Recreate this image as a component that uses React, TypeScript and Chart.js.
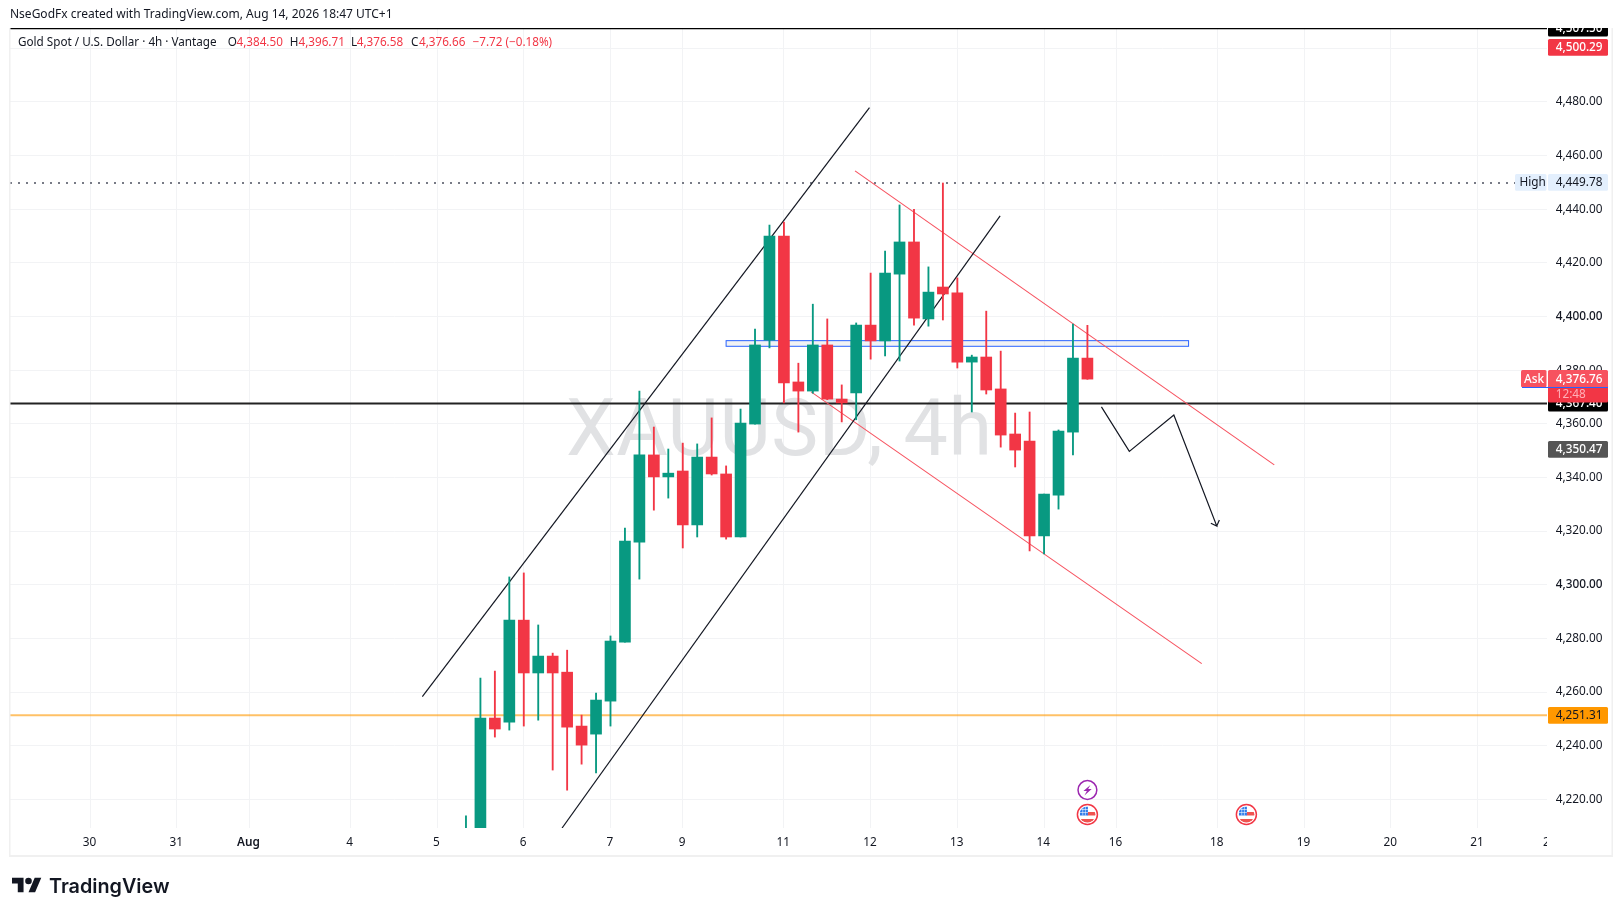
import React, { useEffect, useRef } from "react";
import { Chart, registerables } from "chart.js";

Chart.register(...registerables);

const barIndex = [0,1,2,3,4,5,6,7,8,9,10,11,12,13,14,15,16,17,18,19,20,21,22,23,24,25,26,27,28,29,30,31,32,33,34,35,36,37,38,39,40,41,42,43];
const opens = [4195,4205,4250.3,4248.8,4286.8,4267.1,4273.4,4267.4,4247.3,4244.3,4256.6,4278.6,4315.9,4348.4,4340.2,4342.4,4322.3,4347.6,4341.3,4317.8,4359.9,4391.2,4430,4375.6,4372.2,4389.4,4369.2,4371.5,4396.8,4390.9,4415.8,4427.8,4399.1,4411,4408.8,4383,4384.9,4373,4356.2,4353.6,4318.2,4333.4,4356.9,4384.5];
const highs = [4213.8,4265.2,4267.8,4302.9,4304.4,4285,4274.5,4275.6,4251.4,4259.6,4280.9,4321.1,4372.2,4358.8,4350.6,4352.8,4352.5,4362.2,4344.3,4365.5,4395.3,4434.1,4435.2,4382.6,4404.6,4399.1,4374.5,4397.6,4416.2,4424.4,4441.6,4440,4418.5,4449.78,4414.4,4385.6,4402,4387.1,4364,4364.4,4333.8,4357.7,4397.2,4396.71];
const lows = [4190,4200,4243.2,4245.8,4247.3,4249.5,4230.9,4223.4,4233.1,4229.8,4247.3,4278.6,4302.1,4327.8,4332.3,4313.7,4317.8,4340.9,4317,4317.8,4359.9,4388.3,4367.8,4356.9,4371.4,4369,4360.7,4361.5,4384.1,4385.3,4383.4,4396.8,4396.4,4398.7,4380.8,4364.4,4371.1,4351.3,4343.9,4312.6,4311.5,4328.2,4348.4,4376.58];
const closes = [4205,4250.3,4246.2,4286.8,4267.1,4273.4,4267.1,4246.9,4240.2,4257,4279,4316.3,4348.4,4340.2,4341.6,4322.3,4347.6,4341.3,4317.8,4360.3,4389.4,4430,4375.2,4372.2,4389.4,4369.2,4367.8,4396.8,4390.9,4416.2,4427.8,4399.4,4409.1,4408.4,4383,4384.9,4372.6,4355.8,4350.2,4318.2,4333.8,4357.3,4384.5,4376.66];

const xTickValues = [-26,-20,-15,-8,-2,4,10,15,22,28,34,40,45,52,58,64,70,74.8];
const xTickLabels = ["30","31","Aug","4","5","6","7","9","11","12","13","14","16","18","19","20","21","2"];
const yTickValues = [4220,4240,4260,4280,4300,4320,4340,4360,4380,4400,4420,4440,4460,4480,4500];

const upChannelUpper = [{ x: -3.02, y: 4258.3 }, { x: 27.92, y: 4477.9 }];
const upChannelLower = [{ x: 6.65, y: 4209.3 }, { x: 36.96, y: 4437.5 }];
const downChannelUpper = [{ x: 26.92, y: 4454.3 }, { x: 55.93, y: 4344.7 }];
const downChannelLower = [{ x: 23.88, y: 4371.9 }, { x: 50.91, y: 4270.6 }];
const arrowPath = [{ x: 43.97, y: 4366.3 }, { x: 45.9, y: 4349.7 }, { x: 48.98, y: 4363.3 }, { x: 51.95, y: 4321.9 }, { x: 51.54, y: 4322.9 }, { x: 51.95, y: 4321.9 }, { x: 52.13, y: 4324.1 }];
const topLinePrice = 4507.5;
const blackLinePrice = 4367.6;
const orangeLinePrice = 4251.31;
const highPrice = 4449.78;
const zoneTop = 4391;
const zoneBottom = 4388.9;
const zoneStart = 18;
const zoneEnd = 50;
const eventBolt = 43;
const eventFlags = [43, 54];

const X_MIN = -31.55;
const X_MAX = 74.8;
const Y_MIN = 4209.3;
const Y_MAX = 4507.57;
const GREEN = "#089981";
const RED = "#F23645";
const FONT = '"Noto Sans"';
const INK = "#131722";

const candleColors = closes.map((c, i) => (c >= opens[i] ? GREEN : RED));

const lineSet = (data: any[], color: string, width: number, extra: any = {}) => ({
  type: "line" as const,
  data,
  borderColor: color,
  borderWidth: width,
  pointRadius: 0,
  tension: 0,
  fill: false,
  order: 10,
  ...extra,
});

const badge = (ctx: any, x: number, y: number, w: number, h: number, bg: string, text: string, fg: string, tx: number, weight = "400") => {
  ctx.fillStyle = bg;
  ctx.beginPath();
  ctx.roundRect(x, y, w, h, 1.5);
  ctx.fill();
  ctx.fillStyle = fg;
  ctx.font = `${weight} 11.8px ${FONT}`;
  ctx.textAlign = "left";
  ctx.textBaseline = "middle";
  ctx.fillText(text, tx, y + h / 2 + 0.5);
};

const drawFlag = (ctx: any, cx: number, cy: number) => {
  ctx.save();
  ctx.beginPath();
  ctx.arc(cx, cy, 10, 0, Math.PI * 2);
  ctx.fillStyle = "#fff";
  ctx.fill();
  ctx.strokeStyle = RED;
  ctx.lineWidth = 1.5;
  ctx.stroke();
  ctx.beginPath();
  ctx.arc(cx, cy, 8, 0, Math.PI * 2);
  ctx.clip();
  ctx.fillStyle = "#EF5350";
  ctx.fillRect(cx, cy - 2.5, 9, 3.5);
  ctx.fillRect(cx - 8, cy + 4.5, 16, 4);
  ctx.fillStyle = "#2E7BEA";
  ctx.fillRect(cx - 7.5, cy - 8, 8, 9);
  ctx.fillStyle = "rgba(255,255,255,0.7)";
  [-5, -2.5].forEach((d) => ctx.fillRect(cx + d, cy - 8, 0.8, 9));
  [-5.5, -2.5].forEach((d) => ctx.fillRect(cx - 7.5, cy + d, 8, 0.8));
  ctx.restore();
};

const drawBolt = (ctx: any, cx: number, cy: number) => {
  ctx.save();
  ctx.beginPath();
  ctx.arc(cx, cy, 9.4, 0, Math.PI * 2);
  ctx.fillStyle = "#fff";
  ctx.fill();
  ctx.strokeStyle = "#9C27B0";
  ctx.lineWidth = 1.5;
  ctx.stroke();
  ctx.fillStyle = "#9C27B0";
  ctx.beginPath();
  ctx.moveTo(cx + 3, cy - 5);
  ctx.lineTo(cx - 4, cy + 1);
  ctx.lineTo(cx - 0.5, cy + 1);
  ctx.lineTo(cx - 3, cy + 5.5);
  ctx.lineTo(cx + 4.3, cy - 1);
  ctx.lineTo(cx + 0.7, cy - 1);
  ctx.closePath();
  ctx.fill();
  ctx.restore();
};

const underlay = {
  id: "underlay",
  beforeDatasetsDraw(chart: any) {
    const { ctx, chartArea: a, scales } = chart;
    ctx.save();
    ctx.beginPath();
    ctx.rect(a.left, a.top, a.right - a.left, a.bottom - a.top);
    ctx.clip();
    ctx.fillStyle = "#E1E2E4";
    ctx.font = `400 79px Roboto`;
    ctx.letterSpacing = "0.6px";
    ctx.textAlign = "left";
    ctx.textBaseline = "alphabetic";
    ctx.fillText("XAUUSD, 4h", 566, 455);
    ctx.letterSpacing = "0px";
    const x0 = scales.x.getPixelForValue(zoneStart);
    const x1 = scales.x.getPixelForValue(zoneEnd);
    const y0 = scales.y.getPixelForValue(zoneTop);
    const y1 = scales.y.getPixelForValue(zoneBottom);
    ctx.fillStyle = "rgba(120,123,134,0.1)";
    ctx.fillRect(x0, y0, x1 - x0, y1 - y0);
    ctx.strokeStyle = "#2962FF";
    ctx.lineWidth = 1;
    ctx.strokeRect(x0, y0, x1 - x0, y1 - y0);
    ctx.restore();
  },
};

const overlay = {
  id: "overlay",
  afterDraw(chart: any) {
    const { ctx, scales } = chart;
    const yp = (v: number) => scales.y.getPixelForValue(v);
    ctx.save();
    ctx.fillStyle = "#F0F0F0";
    ctx.fillRect(9, 28, 1.5, 828);
    ctx.fillRect(1611.5, 28, 1.5, 828);
    ctx.fillRect(9, 855, 1604, 2);
    ctx.fillStyle = "#fff";
    ctx.fillRect(1547, 829, 64, 26);

    eventFlags.forEach((v) => drawFlag(ctx, scales.x.getPixelForValue(v), 814.5));
    drawBolt(ctx, scales.x.getPixelForValue(eventBolt), 790);

    ctx.fillStyle = INK;
    ctx.font = `400 12px ${FONT}`;
    ctx.textAlign = "left";
    ctx.textBaseline = "middle";
    ctx.fillText("NseGodFx created with TradingView.com, Aug 14, 2026 18:47 UTC+1", 10, 15);

    const leg = (t: string, x: number, c: string) => {
      ctx.fillStyle = c;
      ctx.font = `400 11.7px ${FONT}`;
      ctx.textAlign = "left";
      ctx.textBaseline = "middle";
      ctx.fillText(t, x, 43);
    };
    leg("Gold Spot / U.S. Dollar · 4h · Vantage", 18, INK);
    leg("O", 227.7, INK);
    leg("4,384.50", 236.5, RED);
    leg("H", 289.7, INK);
    leg("4,396.71", 298.5, RED);
    leg("L", 351, INK);
    leg("4,376.58", 356.7, RED);
    leg("C", 411, INK);
    leg("4,376.66", 419, RED);
    leg("−7.72 (−0.18%)", 472.6, RED);

    const bx = 1548;
    const bw = 60;
    const tx = 1555.7;
    ctx.save();
    ctx.beginPath();
    ctx.rect(1547, 28, 65, 800);
    ctx.clip();
    badge(ctx, bx, yp(topLinePrice) - 8.6, bw, 17, "#000", "4,507.50", "#fff", tx, "500");
    ctx.restore();
    badge(ctx, bx, 39, bw, 16.8, RED, "4,500.29", "#fff", tx, "500");
    badge(ctx, 1515, 174, 31.5, 16.8, "#E3EFFD", "High", INK, 1519.5);
    badge(ctx, bx, 174, bw, 16.8, "#E3EFFD", "4,449.78", INK, tx);
    badge(ctx, bx, 394.5, bw, 17, "#000", "4,367.40", "#fff", tx, "500");
    badge(ctx, bx, 385, bw, 17.5, RED, "12:48", "#FFB0B8", tx);
    badge(ctx, 1521, 370, 25.5, 17.3, "#F7525F", "Ask", "#fff", 1524, "500");
    badge(ctx, bx, 370, bw, 17.3, "#F7525F", "4,376.76", "#fff", tx, "500");
    ctx.fillStyle = "#2962FF";
    ctx.fillRect(1522, 387, 86, 1);
    badge(ctx, bx, 441, bw, 16.8, "#555555", "4,350.47", "#fff", tx, "500");
    badge(ctx, bx, 707, bw, 16.8, "#FF9800", "4,251.31", INK, tx);

    ctx.save();
    ctx.translate(12, 877.7 - 4 * 0.815);
    ctx.scale(0.825, 0.815);
    ctx.fillStyle = INK;
    ctx.fill(new Path2D("M14 22H7V11H0V4h14v18zM28 22h-8l7.5-18h8L28 22z"));
    ctx.beginPath();
    ctx.arc(20, 8, 4, 0, Math.PI * 2);
    ctx.fill();
    ctx.restore();
    ctx.fillStyle = INK;
    ctx.font = `600 19.8px Inter`;
    ctx.textAlign = "left";
    ctx.textBaseline = "alphabetic";
    ctx.fillText("TradingView", 49, 892.5);
    ctx.restore();
  },
};

export default function App() {
  const ref = useRef<HTMLCanvasElement>(null);
  useEffect(() => {
    document.body.style.margin = "0";
    document.body.style.overflow = "hidden";
    const chart = new Chart(ref.current as HTMLCanvasElement, {
      type: "bar",
      data: {
        datasets: [
          {
            label: "Bodies",
            data: barIndex.map((x, i) => ({ x, y: [opens[i], closes[i]] })),
            backgroundColor: candleColors,
            barThickness: 11,
            grouped: false,
            borderWidth: 0,
            order: 1,
          } as any,
          {
            label: "Wicks",
            data: barIndex.map((x, i) => ({ x, y: [lows[i], highs[i]] })),
            backgroundColor: candleColors,
            barThickness: 1.2,
            grouped: false,
            borderWidth: 0,
            order: 2,
          } as any,
          lineSet(upChannelUpper, "#131722", 1.2),
          lineSet(upChannelLower, "#131722", 1.2),
          lineSet(downChannelUpper, "#F7525F", 1.1),
          lineSet(downChannelLower, "#F7525F", 1.1),
          lineSet(arrowPath, "#131722", 1.2),
          lineSet([{ x: X_MIN, y: topLinePrice }, { x: X_MAX, y: topLinePrice }], "#000", 2),
          lineSet([{ x: X_MIN, y: blackLinePrice }, { x: X_MAX, y: blackLinePrice }], "#222", 2),
          lineSet([{ x: X_MIN, y: orangeLinePrice }, { x: X_MAX, y: orangeLinePrice }], "rgba(255,152,0,0.6)", 2),
          lineSet([{ x: X_MIN, y: highPrice }, { x: 72.6, y: highPrice }], "#787B86", 1.8, { borderDash: [2, 6] }),
        ] as any,
      },
      options: {
        responsive: false,
        animation: false,
        events: [],
        layout: { padding: { left: 10, top: 28, right: 11, bottom: 61 } },
        plugins: { legend: { display: false }, tooltip: { enabled: false } },
        scales: {
          x: {
            type: "linear",
            min: X_MIN,
            max: X_MAX,
            offset: false,
            border: { display: false },
            grid: {
              offset: false,
              drawTicks: false,
              tickLength: 0,
              color: (c: any) => (c.tick && c.tick.value === X_MAX ? "rgba(0,0,0,0)" : "#F2F3F5"),
            },
            afterBuildTicks: (s: any) => {
              s.ticks = xTickValues.map((value) => ({ value }));
            },
            afterFit: (s: any) => {
              s.height = 27;
            },
            ticks: {
              autoSkip: false,
              maxRotation: 0,
              minRotation: 0,
              padding: 8,
              labelOffset: -0.7,
              color: INK,
              font: (c: any) => ({
                family: FONT,
                size: 11.8,
                weight: c.tick && c.tick.value === -15 ? "600" : "400",
              }),
              callback: (v: any) => xTickLabels[xTickValues.indexOf(Number(v))] ?? "",
            },
          },
          y: {
            type: "linear",
            position: "right",
            min: Y_MIN,
            max: Y_MAX,
            border: { display: false },
            grid: { drawTicks: false, tickLength: 0, color: "#F2F3F5" },
            afterBuildTicks: (s: any) => {
              s.ticks = yTickValues.map((value) => ({ value }));
            },
            afterFit: (s: any) => {
              s.width = 65;
            },
            ticks: {
              autoSkip: false,
              padding: 8.7,
              color: INK,
              font: (c: any) => ({
                family: FONT,
                size: 11.8,
                weight: c.tick && c.tick.value % 100 === 0 ? "500" : "400",
              }),
              callback: (v: any) =>
                Number(v).toLocaleString("en-US", { minimumFractionDigits: 2, maximumFractionDigits: 2 }),
            },
          },
        },
      } as any,
      plugins: [underlay, overlay],
    });
    return () => chart.destroy();
  }, []);
  return (
    <div style={{ position: "absolute", left: 0, top: 0, width: 1623, height: 916, background: "#fff" }}>
      <canvas ref={ref} width={1623} height={916} style={{ display: "block" }} />
    </div>
  );
}
